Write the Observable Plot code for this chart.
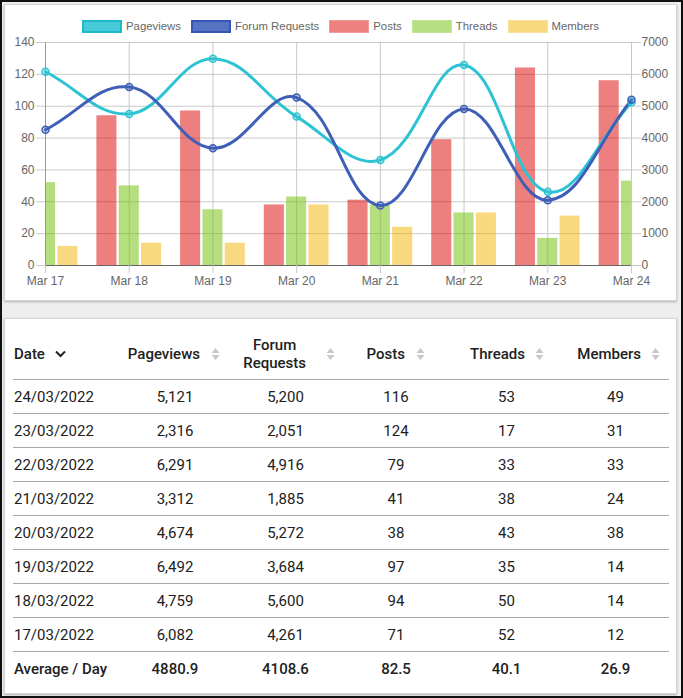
<!DOCTYPE html>
<html>
<head>
<meta charset="utf-8">
<script src="https://cdn.jsdelivr.net/npm/d3@7"></script>
<script src="https://cdn.jsdelivr.net/npm/@observablehq/plot@0.6"></script>
<style>
  html, body { margin: 0; padding: 0; }
  #frame { position: relative; width: 683px; height: 698px; box-sizing: border-box; border: 2px solid #111; background: #eee; overflow: hidden; }
  .card { position: absolute; background: #fff; box-sizing: border-box; border: 1px solid #d4d4d4; box-shadow: 0 1px 2px rgba(0,0,0,0.25); }
  #card1 { left: 2px; top: 2px; width: 673px; height: 297px; }
  #card2 { left: 2px; top: 316px; width: 673px; height: 376px; }
  #legend { position: absolute; left: 0; right: 0; top: 15px; height: 13px; display: flex; justify-content: center; gap: 10px; font: 11.4px "Liberation Sans", Arial, sans-serif; color: #666; }
  .li { display: flex; align-items: center; gap: 4px; line-height: 13px; }
  .sw { width: 40px; height: 13px; box-sizing: border-box; }
  #chart { position: absolute; left: 0; top: 30px; }
  table { position: absolute; left: 8px; top: 9px; width: 656px; border-collapse: collapse; table-layout: fixed; font: 15px Roboto, "Noto Sans", sans-serif; color: #212121; }
  th { font-weight: 500; height: 51px; border-bottom: 1px solid #a8a8a8; padding: 0; vertical-align: middle; }
  th .hc { display: flex; align-items: center; justify-content: flex-end; }
  th .ht { text-align: center; line-height: 18px; }
  td { height: 33px; border-bottom: 1px solid #a8a8a8; padding: 0; text-align: center; vertical-align: middle; }
  td.d { text-align: left; padding-left: 1px; }
  tr.avg td { border-bottom: none; font-weight: 500; }
</style>
</head>
<body>
<div id="frame">
  <div class="card" id="card1">
    <div id="legend"></div>
    <div id="chart"></div>
  </div>
  <div class="card" id="card2">
    <table id="tbl"></table>
  </div>
</div>
<script>
// ---- data ----
const dayLabels = ["Mar 17", "Mar 18", "Mar 19", "Mar 20", "Mar 21", "Mar 22", "Mar 23", "Mar 24"];
const dateLabels = ["17/03/2022", "18/03/2022", "19/03/2022", "20/03/2022", "21/03/2022", "22/03/2022", "23/03/2022", "24/03/2022"];
const pageviews = [6082, 4759, 6492, 4674, 3312, 6291, 2316, 5121];
const forumRequests = [4261, 5600, 3684, 5272, 1885, 4916, 2051, 5200];
const posts = [71, 94, 97, 38, 41, 79, 124, 116];
const threads = [52, 50, 35, 43, 38, 33, 17, 53];
const members = [12, 14, 14, 38, 24, 33, 31, 49];
const leftTicks = [0, 20, 40, 60, 80, 100, 120, 140];
const rightTicks = [0, 1000, 2000, 3000, 4000, 5000, 6000, 7000];
const RATIO = 7000 / 140;

// ---- styles ----
const colors = {
  Pageviews: "#2ec3d3",
  "Forum Requests": "#3f5fb7",
  Posts: "rgba(221,0,0,0.5)",
  Threads: "rgba(107,191,0,0.5)",
  Members: "rgba(243,179,0,0.5)"
};
const legendStyles = [
  ["Pageviews", "#47cbd8", "2px solid #1db8c9"],
  ["Forum Requests", "#5672c2", "2px solid #3557b3"],
  ["Posts", "#ee8080", "1px solid #f29a9a"],
  ["Threads", "#b5df80", "1px solid #c2e596"],
  ["Members", "#f9d980", "1px solid #fae19a"]
];

// legend
const legend = document.getElementById("legend");
for (const [name, fill, border] of legendStyles) {
  const it = document.createElement("div");
  it.className = "li";
  it.innerHTML = `<div class="sw" style="background:${fill};border:${border}"></div><span>${name}</span>`;
  legend.appendChild(it);
}

// Chart.js-like spline curve (tension 0.4)
function chartSpline(context) {
  let pts = [];
  return {
    areaStart() {}, areaEnd() {},
    lineStart() { pts = []; },
    point(x, y) { pts.push([+x, +y]); },
    lineEnd() {
      const n = pts.length; if (!n) return;
      const t = 0.4;
      const cps = pts.map((p, i) => {
        const prev = pts[i - 1] || p, next = pts[i + 1] || p;
        const d01 = Math.hypot(p[0] - prev[0], p[1] - prev[1]);
        const d12 = Math.hypot(next[0] - p[0], next[1] - p[1]);
        let s01 = d01 / (d01 + d12), s12 = d12 / (d01 + d12);
        if (!isFinite(s01)) s01 = 0; if (!isFinite(s12)) s12 = 0;
        const fa = t * s01, fb = t * s12;
        return {
          prev: [p[0] - fa * (next[0] - prev[0]), p[1] - fa * (next[1] - prev[1])],
          next: [p[0] + fb * (next[0] - prev[0]), p[1] + fb * (next[1] - prev[1])]
        };
      });
      context.moveTo(pts[0][0], pts[0][1]);
      for (let i = 1; i < n; i++) {
        context.bezierCurveTo(cps[i - 1].next[0], cps[i - 1].next[1], cps[i].prev[0], cps[i].prev[1], pts[i][0], pts[i][1]);
      }
    }
  };
}

// bar layout (category 0.8, bar 0.9)
const slot = 0.8 / 3, barW = slot * 0.9;
const barSeries = [["Posts", posts], ["Threads", threads], ["Members", members]];
const bars = [];
barSeries.forEach(([name, vals], k) => {
  vals.forEach((v, i) => {
    const c = i + (k - 1) * slot;
    bars.push({ name, x1: c - barW / 2, x2: c + barW / 2, v });
  });
});
const lineSeries = [["Pageviews", pageviews], ["Forum Requests", forumRequests]];
const lineData = [];
lineSeries.forEach(([name, vals]) => vals.forEach((v, i) => lineData.push({ name, i, v: v / RATIO })));

const gridColor = "#c9c9c9";
const chart = Plot.plot({
  width: 671,
  height: 264,
  marginLeft: 40,
  marginRight: 45,
  marginTop: 7,
  marginBottom: 34,
  style: { fontFamily: "'Liberation Sans', Arial, sans-serif", fontSize: "12px", color: "#666", background: "transparent", overflow: "visible" },
  x: { domain: [0, dayLabels.length - 1] },
  y: { domain: [0, 140] },
  marks: [
    Plot.gridY(leftTicks, { stroke: gridColor, strokeOpacity: 1 }),
    Plot.gridX(d3.range(dayLabels.length), { stroke: gridColor, strokeOpacity: 1 }),
    Plot.rect(bars, { x1: "x1", x2: "x2", y1: 0, y2: "v", fill: d => colors[d.name], clip: true }),
    Plot.ruleX([0], { stroke: "#999" }),
    Plot.ruleY([0], { stroke: "#666" }),
    Plot.axisY({ anchor: "left", ticks: leftTicks, tickSize: 9, tickPadding: 2, label: null, stroke: gridColor, fill: "#666" }),
    Plot.axisY({ anchor: "right", ticks: rightTicks.map(v => v / RATIO), tickFormat: d => String(Math.round(d * RATIO)), tickSize: 9, tickPadding: 1, label: null, stroke: gridColor, fill: "#666" }),
    Plot.axisX({ ticks: d3.range(dayLabels.length), tickFormat: i => dayLabels[i], tickSize: 8, tickPadding: 3, label: null, stroke: gridColor, fill: "#666" }),
    ...lineSeries.map(([name]) => Plot.line(lineData.filter(d => d.name === name), { x: "i", y: "v", stroke: colors[name], strokeWidth: 3, curve: chartSpline })),
    ...lineSeries.map(([name]) => Plot.dot(lineData.filter(d => d.name === name), { x: "i", y: "v", r: 3.5, stroke: colors[name], strokeWidth: 1.5, fill: colors[name], fillOpacity: 0.3 }))
  ]
});
document.getElementById("chart").appendChild(chart);

// ---- table ----
const fmt = d3.format(",");
const sortIcon = `<svg width="9" height="14" viewBox="0 0 9 14"><path d="M0.5 6 L4.5 1 L8.5 6 Z M0.5 8 L4.5 13 L8.5 8 Z" fill="#c8c8c8"/></svg>`;
const chevron = `<svg width="11" height="8" viewBox="0 0 11 8"><path d="M1 1.5 L5.5 6 L10 1.5" fill="none" stroke="#222" stroke-width="2"/></svg>`;
const headers = [
  { t: "Pageviews", pr: 10, ml: 11 },
  { t: "Forum<br>Requests", pr: 6, ml: 20 },
  { t: "Posts", pr: 26, ml: 11 },
  { t: "Threads", pr: 18, ml: 10 },
  { t: "Members", pr: 9, ml: 10 }
];
const colW = [107, 110, 111, 110, 111, 107];
let html = "<colgroup>" + colW.map(w => `<col style="width:${w}px">`).join("") + "</colgroup>";
html += `<thead><tr><th><div class="hc" style="justify-content:flex-start;padding-left:1px"><span>Date</span><span style="margin-left:10px;display:flex">${chevron}</span></div></th>`;
for (const h of headers) {
  html += `<th><div class="hc" style="padding-right:${h.pr}px"><span class="ht">${h.t}</span><span style="margin-left:${h.ml}px;display:flex">${sortIcon}</span></div></th>`;
}
html += "</tr></thead><tbody>";
const cols = [pageviews, forumRequests, posts, threads, members];
for (let i = dateLabels.length - 1; i >= 0; i--) {
  html += `<tr><td class="d">${dateLabels[i]}</td>` + cols.map(c => `<td>${fmt(c[i])}</td>`).join("") + "</tr>";
}
html += `<tr class="avg"><td class="d">Average / Day</td>` + cols.map(c => `<td>${d3.mean(c).toFixed(1)}</td>`).join("") + "</tr>";
html += "</tbody>";
document.getElementById("tbl").innerHTML = html;
</script>
</body>
</html>
